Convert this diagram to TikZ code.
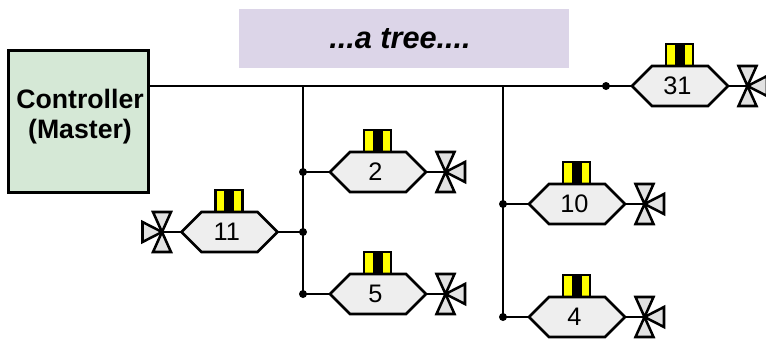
\documentclass[tikz,border=0pt]{standalone}
\usepackage{fontspec}
\setmainfont{Liberation Sans}
\definecolor{mastergreen}{HTML}{D5E8D6}
\definecolor{bannerlilac}{HTML}{DCD5E8}
\definecolor{hexgray}{HTML}{EEEEEE}
\definecolor{valvegray}{HTML}{E2E2E2}
\definecolor{tagyellow}{HTML}{FFFF00}
\tikzset{
    wire/.style={line width=1.9pt},
    jdot/.style={circle,fill=black,inner sep=0pt,minimum size=6pt},
    hexbody/.style={minimum width=72pt,minimum height=30pt,inner sep=0pt,font=\fontsize{19}{20}\selectfont},
    valvepart/.style={draw,line width=1.9pt,fill=valvegray,line join=miter},
}
% name, x, y, label, side of the valve
\newcommand{\device}[5]{
    \begin{scope}[shift={(#2,#3)}]
        \fill[tagyellow] (-14,-42) rectangle (13,-20);
        \fill (-5.5,-42) rectangle (4.5,-20);
        \draw[line width=1.9pt] (-14,-20) -- (-14,-42) -- (13,-42) -- (13,-20);
        \draw[line width=1.9pt,fill=hexgray,line join=miter] (-48,0) -- (-28,-20) -- (28,-20) -- (48,0) -- (28,20) -- (-28,20) -- cycle;
        \node[hexbody] (#1) at (0,0) {\hspace*{-4pt}#4};
        \coordinate (#1v) at (#5*67.5,0);
        \draw[wire] (#1) -- (#1v);
        \draw[valvepart] (#5*67.5,0) -- (#5*58.5,-20) -- (#5*76.5,-20) -- cycle;
        \draw[valvepart] (#5*67.5,0) -- (#5*58.5,20) -- (#5*76.5,20) -- cycle;
        \draw[valvepart] (#5*67.5,0) -- (#5*87,-10) -- (#5*87,10) -- cycle;
    \end{scope}
}
\begin{document}
\begin{tikzpicture}[x=0.75pt,y=-0.75pt]
    \useasboundingbox (0,0) rectangle (766,339);
    \node[fill=bannerlilac,minimum width=247.5pt,minimum height=44pt,inner sep=0pt,font=\fontsize{23}{26}\selectfont\bfseries\itshape] (banner) at (404,38.5) {\raisebox{-1.5pt}{\hspace*{-6pt}...a tree....}};
    \node[draw,line width=1.9pt,fill=mastergreen,minimum width=105pt,minimum height=106.5pt,inner sep=0pt,
        font=\fontsize{20}{22.5}\selectfont\bfseries,align=center,text depth=0pt] (master) at (78.5,121.5) {};
    \node (mastertext) at (80,116.5) [font=\fontsize{20}{22.5}\selectfont\bfseries,align=center,inner sep=0pt] {Controller\\(Master)};

    \device{d31}{680}{86}{31}{1}
    \device{d2}{378}{172}{2}{1}
    \device{d5}{378}{294}{5}{1}
    \device{d10}{577}{204}{10}{1}
    \device{d4}{577}{317}{4}{1}
    \device{d11}{229.5}{232}{11}{-1}

    \coordinate (top1) at (303,86);
    \coordinate (top2) at (503,86);
    \node[jdot] (j31) at (606,86) {};
    \node[jdot] (j2) at (303,172) {};
    \node[jdot] (j11) at (303,232) {};
    \node[jdot] (j5) at (303,294) {};
    \node[jdot] (j10) at (503,204) {};
    \node[jdot] (j4) at (503,317) {};

    \draw[wire] (master.east |- top1) -- (d31.west);
    \draw[wire] (top1) -- (j5.center);
    \draw[wire] (top2) -- (j4.center);
    \draw[wire] (j2.center) -- (d2.west);
    \draw[wire] (j5.center) -- (d5.west);
    \draw[wire] (j11.center) -- (d11.east);
    \draw[wire] (j10.center) -- (d10.west);
    \draw[wire] (j4.center) -- (d4.west);
\end{tikzpicture}
\end{document}
